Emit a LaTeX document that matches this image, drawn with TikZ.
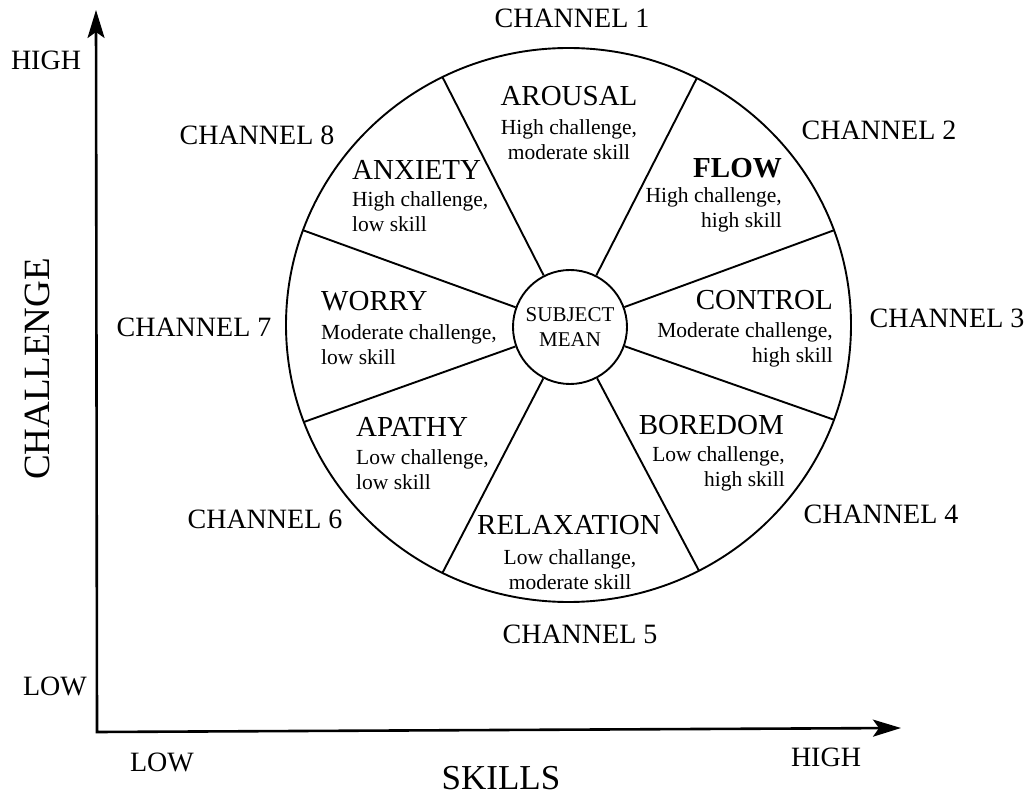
\documentclass[tikz,border=0pt]{standalone}
\usepackage{fontspec}
\setmainfont{Liberation Serif}
\usetikzlibrary{calc,arrows.meta}
\begin{document}
\begin{tikzpicture}[x=1pt,y=-1pt,
  wheel/.style={line width=1.9pt},
  axisline/.style={line width=2.6pt},
  head/.style={inner sep=0pt,font=\fontsize{29}{30}\selectfont},
  sub/.style={inner sep=0pt,font=\fontsize{21.5}{25}\selectfont},
  chan/.style={inner sep=0pt,font=\fontsize{28}{30}\selectfont},
  axlab/.style={inner sep=0pt,font=\fontsize{28}{30}\selectfont}]
\useasboundingbox[fill=white] (0,0) rectangle (1034,799);

% wheel
\coordinate (c) at (568.5,325);
\draw[wheel] (c) ellipse [x radius=282.5pt, y radius=277pt];
\node[draw,wheel,circle,minimum size=114pt,inner sep=0pt,fill=white,
      align=center,font=\fontsize{21}{25}\selectfont] (hub) at (570,327) {SUBJECT\\MEAN};

\foreach \n/\a in {r1/20,r2/63,r3/116.5,r4/160,r5/200.5,r6/243.5,r7/297.5,r8/340}
  \coordinate (\n) at ($(c)+(\a:282.5pt and 277pt)$);
\foreach \n in {r1,r2,r3,r4,r5,r6,r7,r8}
  \draw[wheel] (hub) -- (\n);

% sector texts
\node[head] (arousal) at (569,96) {AROUSAL};
\node[sub,align=center] (arousalT) at (569,140) {High challenge,\\moderate skill};

\node[head,anchor=west] (anxiety) at (352,170) {ANXIETY};
\node[sub,align=left,anchor=west] (anxietyT) at (352,212) {High challenge,\\low skill};

\node[head,anchor=east,font=\fontsize{29}{30}\selectfont\bfseries] (flow) at (782,168) {FLOW};
\node[sub,align=right,anchor=east] (flowT) at (782,210) {High challenge,\\high skill};

\node[head,anchor=west] (worry) at (321,301) {WORRY};
\node[sub,align=left,anchor=west] (worryT) at (321,345) {Moderate challenge,\\low skill};

\node[head,anchor=east] (control) at (833,300) {CONTROL};
\node[sub,align=right,anchor=east] (controlT) at (833,345) {Moderate challenge,\\high skill};

\node[head,anchor=west] (apathy) at (356,427) {APATHY};
\node[sub,align=left,anchor=west] (apathyT) at (356,470) {Low challenge,\\low skill};

\node[head,anchor=east] (boredom) at (784,425) {BOREDOM};
\node[sub,align=right,anchor=east] (boredomT) at (785,469) {Low challenge,\\high skill};

\node[head] (relax) at (569,525) {RELAXATION};
\node[sub,align=center] (relaxT) at (570,570) {Low challange,\\moderate skill};

% channel labels
\node[chan] (ch1) at (572,18) {CHANNEL 1};
\node[chan] (ch2) at (879,130) {CHANNEL 2};
\node[chan] (ch3) at (947,318) {CHANNEL 3};
\node[chan] (ch4) at (881,514) {CHANNEL 4};
\node[chan] (ch5) at (580,634) {CHANNEL 5};
\node[chan] (ch6) at (265,519) {CHANNEL 6};
\node[chan] (ch7) at (194,327) {CHANNEL 7};
\node[chan] (ch8) at (257,135) {CHANNEL 8};

% axes
\coordinate (origin) at (97,732);
\coordinate (ytip) at (96,10);
\coordinate (xtip) at (901,728);
\draw[axisline,{Stealth[length=28pt,width=17pt,inset=6pt]}-{Stealth[length=28pt,width=17pt,inset=6pt]}]
  (ytip) -- (origin) -- (xtip);

\node[axlab] (yhigh) at (46,60) {HIGH};
\node[axlab] (ylow) at (55,686) {LOW};
\node[axlab] (xlow) at (162,762) {LOW};
\node[axlab] (xhigh) at (826,757) {HIGH};
\node[inner sep=0pt,font=\fontsize{35}{36}\selectfont] (skills) at (501,778) {SKILLS};
\node[inner sep=0pt,font=\fontsize{37}{38}\selectfont,rotate=90] (challenge) at (37,369) {CHALLENGE};
\end{tikzpicture}
\end{document}
